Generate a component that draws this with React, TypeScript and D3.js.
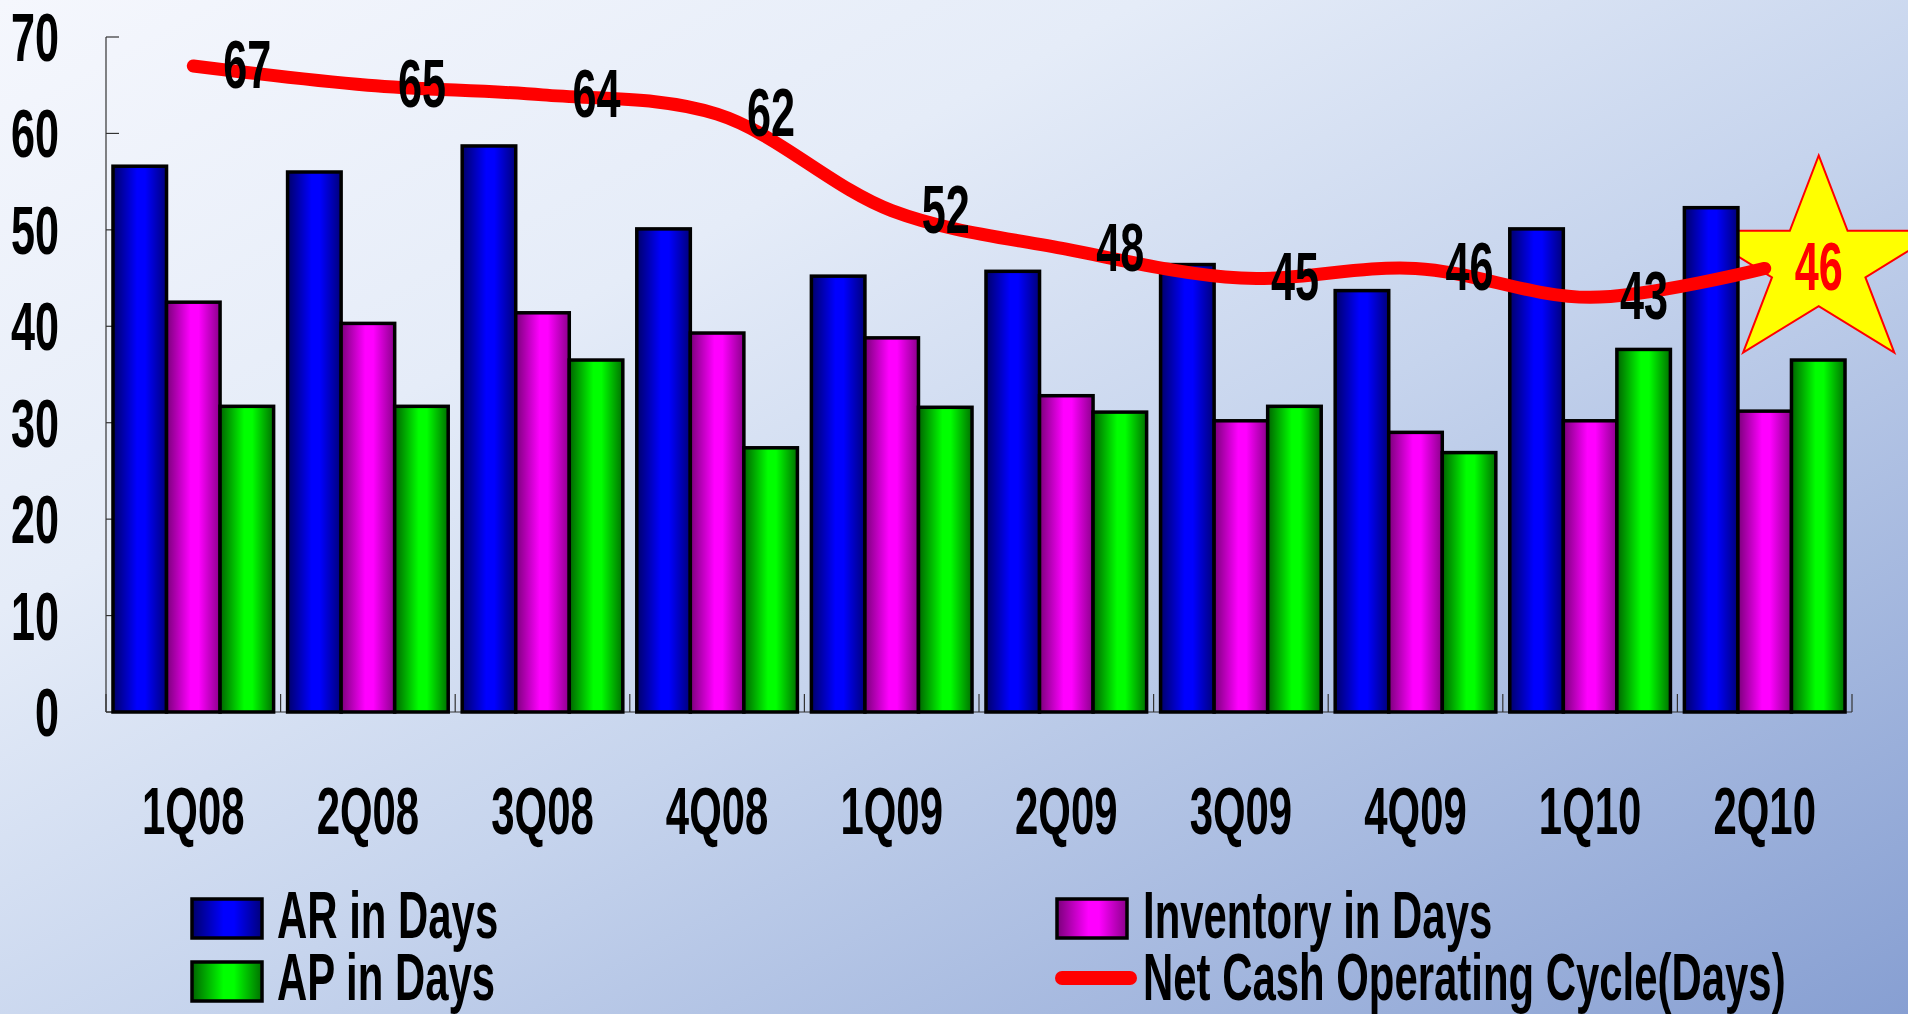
import React from 'react';
import * as d3 from 'd3';

const quarters = ['1Q08', '2Q08', '3Q08', '4Q08', '1Q09', '2Q09', '3Q09', '4Q09', '1Q10', '2Q10'];
const arDays = [56.6, 56.0, 58.7, 50.1, 45.2, 45.7, 46.4, 43.7, 50.1, 52.3];
const inventoryDays = [42.5, 40.3, 41.4, 39.3, 38.8, 32.8, 30.2, 29.0, 30.2, 31.2];
const apDays = [31.7, 31.7, 36.5, 27.4, 31.6, 31.1, 31.7, 26.9, 37.6, 36.5];
const netCycle = [67, 65, 64, 62, 52, 48, 45, 46, 43, 46];
const yTicks = [0, 10, 20, 30, 40, 50, 60, 70];

const seriesKeys = ['ar', 'inv', 'ap'];
const seriesNames: Record<string, string> = {
  ar: 'AR in Days',
  inv: 'Inventory in Days',
  ap: 'AP in Days',
};
const lineName = 'Net Cash Operating Cycle(Days)';

// dark edge / bright middle, like the old office bar fill
const gradients: Record<string, [string, string, string]> = {
  ar: ['#00006a', '#0000ff', '#00007a'],
  inv: ['#7a007a', '#ff00ff', '#8a008a'],
  ap: ['#006400', '#00ff00', '#007000'],
};

const W = 1908;
const H = 1014;
const FONT = '"Liberation Sans", Arial, sans-serif';
const SQUEEZE = 0.635;

// condensed bold text: squeeze horizontally around its anchor
function Narrow(props: {
  x: number; y: number; size: number; anchor?: string; fill?: string; children: React.ReactNode;
}) {
  const { x, y, size, anchor = 'start', fill = '#000', children } = props;
  return (
    <text
      transform={`translate(${x},${y}) scale(${SQUEEZE},1)`}
      fontFamily={FONT}
      fontWeight="bold"
      fontSize={size}
      textAnchor={anchor}
      fill={fill}
    >
      {children}
    </text>
  );
}

export default function App() {
  const rows = quarters.map((q, i) => ({
    q,
    ar: arDays[i],
    inv: inventoryDays[i],
    ap: apDays[i],
    net: netCycle[i],
  }));

  const margin = { top: 37, bottom: H - 712, left: 106, right: W - 1852 };

  const x = d3.scaleBand()
    .domain(quarters)
    .range([margin.left, W - margin.right])
    .paddingInner(0.08)
    .paddingOuter(0.04);

  const xs = d3.scaleBand()
    .domain(seriesKeys)
    .range([0, x.bandwidth()]);

  const y = d3.scaleLinear()
    .domain([0, 70])
    .range([H - margin.bottom, margin.top]);

  const step = x.step();
  const x0 = margin.left;
  const yBase = y(0);

  const cx = (q: string) => (x(q) as number) + x.bandwidth() / 2;

  const line = d3.line<any>()
    .x(d => cx(d.q))
    .y(d => y(d.net))
    .curve(d3.curveCatmullRom.alpha(0.5));

  const labelDx = 54;
  const fsBig = 68;
  const fsText = 66;

  // star sits behind the last data label
  const last = rows[rows.length - 1];
  const starCx = cx(last.q) + labelDx;
  const starCy = y(last.net) - 4;
  const starR = 109;
  const starPts = d3.range(10).map(k => {
    const r = k % 2 === 0 ? starR : starR * 0.382;
    const a = (k * Math.PI) / 5;
    return [starCx + 1.18 * r * Math.sin(a), starCy - r * Math.cos(a)].join(',');
  }).join(' ');

  return (
    <svg
      width={W}
      height={H}
      style={{ position: 'absolute', left: 0, top: 0, display: 'block' }}
    >
      <defs>
        <linearGradient id="bg" x1="0" y1="0" x2="1" y2="1">
          <stop offset="0" stopColor="#f5f7fd" />
          <stop offset="0.3" stopColor="#e5ecf8" />
          <stop offset="0.55" stopColor="#c6d4ed" />
          <stop offset="1" stopColor="#879fd2" />
        </linearGradient>
        {seriesKeys.map(k => (
          <linearGradient key={k} id={`g-${k}`} x1="0" y1="0" x2="1" y2="0">
            <stop offset="0" stopColor={gradients[k][0]} />
            <stop offset="0.45" stopColor={gradients[k][1]} />
            <stop offset="0.6" stopColor={gradients[k][1]} />
            <stop offset="1" stopColor={gradients[k][2]} />
          </linearGradient>
        ))}
      </defs>

      <rect x={0} y={0} width={W} height={H} fill="url(#bg)" />

      <polygon points={starPts} fill="#ffff00" stroke="#ff0000" strokeWidth={2} />

      {/* axes */}
      <g stroke="#333" strokeWidth={1.2}>
        <line x1={x0} x2={x0} y1={y(70)} y2={yBase} />
        {yTicks.map(t => (
          <line key={t} x1={x0} x2={x0 + 13} y1={y(t)} y2={y(t)} />
        ))}
        <line x1={x0} x2={W - margin.right} y1={yBase} y2={yBase} />
        {d3.range(quarters.length + 1).map(i => (
          <line key={i} x1={x0 + i * step} x2={x0 + i * step} y1={yBase} y2={yBase - 18} />
        ))}
      </g>

      {/* bars */}
      {rows.map(r => (
        <g key={r.q} transform={`translate(${x(r.q)},0)`}>
          {seriesKeys.map(k => (
            <rect
              key={k}
              x={xs(k)}
              y={y((r as any)[k])}
              width={xs.bandwidth()}
              height={yBase - y((r as any)[k])}
              fill={`url(#g-${k})`}
              stroke="#000"
              strokeWidth={3.5}
            />
          ))}
        </g>
      ))}

      {/* y tick labels */}
      {yTicks.map(t => (
        <Narrow key={t} x={59} y={y(t) + 24} size={fsBig} anchor="end">{t}</Narrow>
      ))}

      {/* x labels */}
      {quarters.map(q => (
        <Narrow key={q} x={cx(q)} y={834} size={fsText} anchor="middle">{q}</Narrow>
      ))}

      {/* net cash operating cycle line */}
      <path
        d={line(rows) as string}
        fill="none"
        stroke="#ff0000"
        strokeWidth={13}
        strokeLinecap="round"
        strokeLinejoin="round"
      />

      {rows.map((r, i) => (
        <Narrow
          key={r.q}
          x={cx(r.q) + labelDx}
          y={y(r.net) + 22}
          size={fsBig}
          anchor="middle"
          fill={i === rows.length - 1 ? '#ff0000' : '#000'}
        >
          {r.net}
        </Narrow>
      ))}

      {/* legend */}
      <g>
        <rect x={192} y={899} width={70} height={39} fill="url(#g-ar)" stroke="#000" strokeWidth={3.5} />
        <Narrow x={277} y={938} size={fsText}>{seriesNames.ar}</Narrow>
        <rect x={192} y={962} width={70} height={39} fill="url(#g-ap)" stroke="#000" strokeWidth={3.5} />
        <Narrow x={277} y={1000} size={fsText}>{seriesNames.ap}</Narrow>

        <rect x={1057} y={899} width={70} height={39} fill="url(#g-inv)" stroke="#000" strokeWidth={3.5} />
        <Narrow x={1143} y={938} size={fsText}>{seriesNames.inv}</Narrow>
        <line x1={1062} x2={1130} y1={978} y2={978} stroke="#ff0000" strokeWidth={14} strokeLinecap="round" />
        <Narrow x={1143} y={1000} size={fsText}>{lineName}</Narrow>
      </g>
    </svg>
  );
}
